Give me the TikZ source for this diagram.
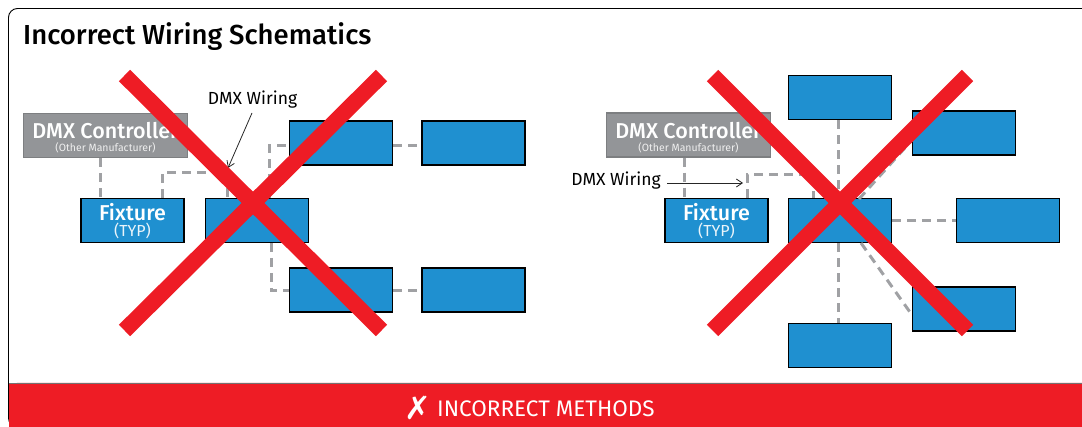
\documentclass[tikz,border=0pt]{standalone}
\usepackage{fontspec}
\setmainfont{Fira Sans}[BoldFont={Fira Sans Medium}]
\newfontfamily\symfont{DejaVu Sans}
\usetikzlibrary{arrows.meta}
\definecolor{fixblue}{HTML}{1F90D0}
\definecolor{ctrlgray}{HTML}{939598}
\definecolor{wiregray}{HTML}{A0A1A4}
\definecolor{xred}{HTML}{EE1C25}
\tikzset{
  fixbox/.style={draw=black,line width=1.6pt,fill=fixblue,minimum width=103pt,minimum height=44pt,inner sep=0pt},
  ctrlbox/.style={draw=ctrlgray!85!black,line width=1.4pt,fill=ctrlgray,minimum width=164pt,minimum height=44pt,inner sep=0pt},
  wire/.style={draw=wiregray,line width=3pt,dash pattern=on 9pt off 6pt},
  cross/.style={draw=xred,line width=16pt},
  leader/.style={draw=black!85,line width=0.8pt,-{Straight Barb[length=6pt,width=8pt]}},
  bigtext/.style={inner sep=0pt,text=white,font=\fontsize{21.5}{23}\selectfont\bfseries},
  subtext/.style={inner sep=0pt,text=white!90!fixblue,font=\fontsize{16}{17}\selectfont},
  tinytext/.style={inner sep=0pt,text=white!85!ctrlgray,font=\fontsize{10.5}{12}\selectfont},
  small/.style={font=\fontsize{17.5}{19}\selectfont,inner sep=0pt},
}
\begin{document}
\begin{tikzpicture}[x=1pt,y=-1pt]
\useasboundingbox (0,0) rectangle (1082,427);
% frame
\draw[black,line width=0.9pt,rounded corners=9pt] (1090,8.5) -- (8.5,8.5) -- (8.5,427) -- (1090,427);
\fill[xred,rounded corners=8pt] (9,383) -- (9,440) -- (1090,440) -- (1090,383) -- cycle;
\fill[xred] (9,383) rectangle (1082,400);
\draw[black!55,line width=0.8pt] (9,383) -- (1082,383);
\node[anchor=west,inner sep=0pt,font=\fontsize{27.5}{30}\selectfont\bfseries] (title) at (23,37) {Incorrect Wiring Schematics};
\node[anchor=west,inner sep=0pt,text=white,font=\fontsize{22.5}{24}\selectfont] (banner) at (437,408.5) {INCORRECT METHODS};
\node[inner sep=0pt,text=white,font=\symfont\fontsize{32}{32}\selectfont] (bannerx) at (418,408) {✗};

% LEFT boxes
\node[ctrlbox] (lc) at (105.5,135.5) {};
\node[bigtext] (lct) at (105.5,131) {DMX Controller};
\node[tinytext] (lcs) at (105.5,147.5) {(Other Manufacturer)};
\node[fixbox] (lf) at (132.5,220.5) {};
\node[bigtext] (lft) at (132.5,212) {Fixture};
\node[subtext] (lfs) at (132.5,231) {(TYP)};
\node[fixbox] (lm) at (257,220.5) {};
\node[fixbox] (lt) at (341,143) {};
\node[fixbox] (ltr) at (473.5,143) {};
\node[fixbox] (lb) at (341,290) {};
\node[fixbox] (lbr) at (473.5,290) {};
% LEFT wires
\coordinate (la1) at (162,198); \coordinate (la2) at (162,173); \coordinate (la3) at (227,173); \coordinate (la4) at (227,198);
\coordinate (lb1) at (269,198); \coordinate (lb2) at (269,146);
\coordinate (lc1) at (271,243); \coordinate (lc2) at (271,291);
\draw[wire] (lc.south -| 100,0) -- (lf.north -| 100,0);
\draw[wire] (la1) -- (la2) -- (la3) -- (la4);
\draw[wire] (lb1) -- (lb2) -- (lt.west |- lb2);
\draw[wire] (lt.east |- lb2) -- (ltr.west |- lb2);
\draw[wire] (lc1) -- (lc2) -- (lb.west |- lc2);
\draw[wire] (lb.east |- lc2) -- (lbr.west |- lc2);
\node[small] (llab) at (252.5,99.5) {DMX Wiring};
\coordinate (ltip) at (228,168);
\coordinate (ltail) at (252,113);
\draw[leader] (ltail) -- (ltip);
% LEFT cross
\coordinate (xa) at (124.5,75.5); \coordinate (xb) at (381.5,330.5); \coordinate (xc) at (381.5,75.5); \coordinate (xd) at (124.5,330.5);
\draw[cross] (xa) -- (xb);
\draw[cross] (xc) -- (xd);

% RIGHT boxes
\node[ctrlbox] (rc) at (688.5,135) {};
\node[bigtext] (rct) at (688.5,131) {DMX Controller};
\node[tinytext] (rcs) at (688.5,147.5) {(Other Manufacturer)};
\node[fixbox] (rf) at (716.5,220.5) {};
\node[bigtext] (rft) at (716.5,212) {Fixture};
\node[subtext] (rfs) at (716.5,231) {(TYP)};
\node[fixbox] (rm) at (840,220.5) {};
\node[fixbox] (rt) at (840,97.5) {};
\node[fixbox] (rur) at (964,133) {};
\node[fixbox] (rr) at (1008,220.5) {};
\node[fixbox] (rlr) at (964,309) {};
\node[fixbox] (rbt) at (840,345.5) {};
% RIGHT wires
\coordinate (ra1) at (747,198); \coordinate (ra2) at (747,175); \coordinate (ra3) at (813,175); \coordinate (ra4) at (813,198);
\coordinate (ru1) at (859,199); \coordinate (ru2) at (912,140);
\coordinate (rl1) at (861,243); \coordinate (rl2) at (912,315);
\draw[wire] (rc.south -| 684,0) -- (rf.north -| 684,0);
\draw[wire] (ra1) -- (ra2) -- (ra3) -- (ra4);
\draw[wire] (rt.south -| 838,0) -- (rm.north -| 838,0);
\draw[wire] (ru1) -- (ru2);
\draw[wire] (rm.east) -- (rr.west);
\draw[wire] (rl1) -- (rl2);
\draw[wire] (rm.south -| 838,0) -- (rbt.north -| 838,0);
\node[small] (rlab) at (616,181) {DMX Wiring};
\coordinate (rtip) at (743,183);
\coordinate (rtail) at (667,183);
\draw[leader] (rtail) -- (rtip);
% RIGHT cross
\coordinate (ya) at (712.5,75.5); \coordinate (yb) at (967.5,330.5); \coordinate (yc) at (967.5,75.5); \coordinate (yd) at (712.5,330.5);
\draw[cross] (ya) -- (yb);
\draw[cross] (yc) -- (yd);
\end{tikzpicture}
\end{document}
